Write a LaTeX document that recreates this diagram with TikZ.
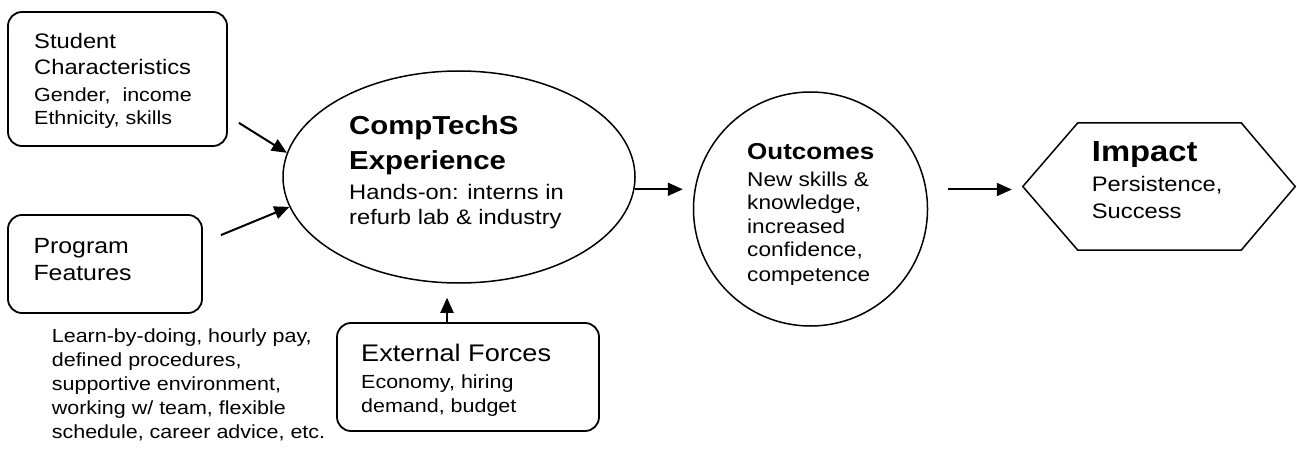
\documentclass[tikz,border=0pt]{standalone}
\usepackage{fontspec}
\setmainfont[FakeStretch=1.13]{Liberation Sans}
\usetikzlibrary{arrows.meta,shapes.geometric}

\begin{document}
\begin{tikzpicture}[x=1pt,y=-1pt,
  box/.style={draw, line width=1.8pt, rounded corners=14pt, inner sep=0pt},
  shapeline/.style={draw, line width=1.5pt, inner sep=0pt},
  ln/.style={inner sep=0pt, anchor=base west},
  fnineteen/.style={font=\fontsize{19}{23}\selectfont},
  ftwenty/.style={font=\fontsize{20}{24}\selectfont},
  ftwentyone/.style={font=\fontsize{21}{25}\selectfont},
  ftwentytwo/.style={font=\fontsize{22}{26}\selectfont},
  fext/.style={font=\fontsize{24}{28}\selectfont},
  hexp/.style={font=\bfseries\fontsize{26}{30}\selectfont},
  houtc/.style={font=\bfseries\fontsize{23}{27}\selectfont},
  himp/.style={font=\bfseries\fontsize{29}{33}\selectfont},
  arr/.style={line width=2pt, -{Triangle[length=15pt,width=13pt]}},
]
\useasboundingbox[fill=white] (0,0) rectangle (1297,454);

% ---- shapes ----
\node[box, minimum width=219pt, minimum height=134pt] (stu) at (117.5,79) {};
\node[box, minimum width=194pt, minimum height=98pt] (prog) at (105,264) {};
\node[box, minimum width=262pt, minimum height=108pt] (ext) at (468,377) {};
\node[shapeline, ellipse, minimum width=352pt, minimum height=212pt] (exp) at (459,177) {};
\node[shapeline, circle, minimum size=234pt] (outc) at (810.5,209) {};
\node[inner sep=0pt, minimum width=272pt, minimum height=127pt] (imp) at (1159,186.5) {};
\draw[line width=1.5pt, line join=miter] (imp.west)
  -- ([xshift=55pt]imp.north west) -- ([xshift=-54pt]imp.north east)
  -- (imp.east)
  -- ([xshift=-54pt]imp.south east) -- ([xshift=55pt]imp.south west)
  -- cycle;

% ---- texts: student characteristics ----
\node[ln, ftwentyone] (s1) at (34,48.3) {Student};
\node[ln, ftwentyone] (s2) at (34,75) {Characteristics};
\node[ln, fnineteen] (s3) at (34,101.7) {Gender,\ \ income};
\node[ln, fnineteen] (s4) at (34,125) {Ethnicity, skills};

% ---- program features ----
\node[ln, ftwentytwo] (p1) at (33.3,253.3) {Program};
\node[ln, ftwentytwo] (p2) at (33.3,280) {Features};
\node[ln, fnineteen] (f1) at (51.7,342.7) {Learn-by-doing, hourly pay,};
\node[ln, fnineteen] (f2) at (51.7,366.7) {defined procedures,};
\node[ln, fnineteen] (f3) at (51.7,390.7) {supportive environment,};
\node[ln, fnineteen] (f4) at (51.7,414.7) {working w/ team, flexible};
\node[ln, fnineteen] (f5) at (51.7,438.7) {schedule, career advice, etc.};

% ---- experience ----
\node[ln, hexp] (e1) at (349,135) {CompTechS};
\node[ln, hexp] (e2) at (349,170) {Experience};
\node[ln, ftwentyone] (e3) at (349,199.3) {Hands-on: interns in};
\node[ln, ftwentyone] (e4) at (349,225) {refurb lab \& industry};

% ---- external forces ----
\node[ln, fext] (x1) at (361,361.7) {External Forces};
\node[ln, fnineteen] (x2) at (361,388.3) {Economy, hiring};
\node[ln, fnineteen] (x3) at (361,412.7) {demand, budget};

% ---- outcomes (text box cuts the last line) ----
\begin{scope}
  \clip (700,90) rectangle (930,284);
  \node[ln, houtc] (o1) at (747,160) {Outcomes};
  \node[ln, ftwenty] (o2) at (747,186.7) {New skills \&};
  \node[ln, ftwenty] (o3) at (747,210) {knowledge,};
  \node[ln, ftwenty] (o4) at (747,233.3) {increased};
  \node[ln, ftwenty] (o5) at (747,256.7) {confidence,};
  \node[ln, ftwenty] (o6) at (747,281.7) {competence};
\end{scope}

% ---- impact ----
\node[ln, himp] (i1) at (1091.7,161.7) {Impact};
\node[ln, ftwentyone] (i2) at (1091.7,191.7) {Persistence,};
\node[ln, ftwentyone] (i3) at (1091.7,218.3) {Success};

% ---- connectors ----
\draw[arr] ([shift={(11,-24)}]stu.south east) -- (exp.172);
\draw[arr] ([shift={(18,21)}]prog.north east) -- (exp.190);
\draw[arr, shorten >=14pt] ([xshift=-21pt]ext.north) -- ([xshift=-21pt]ext.north |- exp.south);
\draw[arr] (exp.-4.5) -- ([xshift=-10pt]outc.west |- exp.-4.5);
\draw[arr] ([shift={(20,3)}]outc.east |- imp.west) -- ([shift={(-11,3)}]imp.west);
\end{tikzpicture}
\end{document}
